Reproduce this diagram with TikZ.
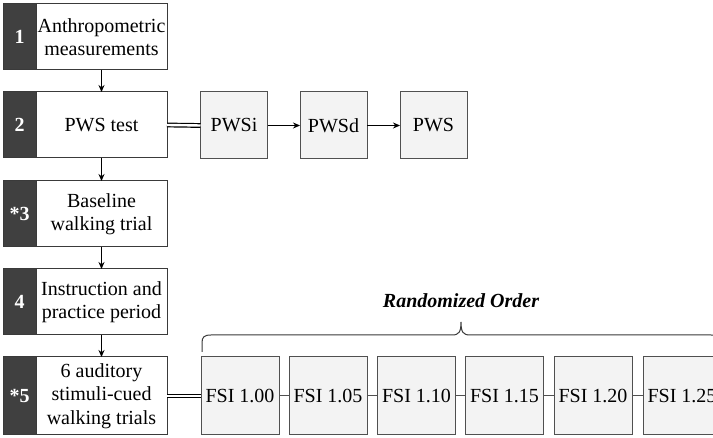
\documentclass[tikz,border=0pt]{standalone}
\usepackage{fontspec}
\setmainfont{Liberation Serif}[Ligatures=TeX]
\newfontfamily\tnr{Liberation Serif}
\usetikzlibrary{arrows.meta}
\definecolor{darkbox}{HTML}{404040}
\definecolor{edge}{HTML}{3A3A3A}
\definecolor{lightfill}{HTML}{F3F3F3}
\definecolor{grayedge}{HTML}{505050}
\tikzset{
  base/.style={inner sep=0pt, outer sep=0pt, font=\tnr\fontsize{20}{23.5}\selectfont},
  numbox/.style={base, draw=edge, fill=darkbox, line width=1pt, minimum width=33pt, text=white, font=\tnr\fontsize{20}{23.5}\selectfont\bfseries},
  stepbox/.style={base, draw=edge, fill=white, line width=1pt, minimum width=131pt, align=center},
  subbox/.style={base, draw=grayedge, fill=lightfill, line width=1pt, minimum width=67pt, minimum height=67pt},
  fsibox/.style={base, draw=grayedge, fill=lightfill, line width=1pt, minimum width=78pt, minimum height=78pt},
  arr/.style={line width=0.9pt, -{Stealth[length=7pt,width=6pt]}},
  dbl/.style={line width=1.2pt, draw=black, double=white, double distance=2.4pt},
  lnk/.style={line width=1pt, draw=grayedge}
}
\begin{document}
\begin{tikzpicture}[x=1pt,y=-1pt]
\clip (0,0) rectangle (713,438);
\fill[white] (0,0) rectangle (713,438);
% left column
\node[stepbox, minimum height=66pt] (w1) at (101.5,37) {Anthropometric\\measurements};
\node[stepbox, minimum height=66pt] (w2) at (101.5,125) {PWS test};
\node[stepbox, minimum height=66pt] (w3) at (101.5,214) {Baseline\\walking trial};
\node[stepbox, minimum height=66pt] (w4) at (101.5,302) {Instruction and\\practice period};
\node[stepbox, minimum height=78pt] (w5) at (101.5,396) {6 auditory\\stimuli-cued\\walking trials};
\node[numbox, minimum height=66pt, anchor=east] (d1) at (w1.west) {1};
\node[numbox, minimum height=66pt, anchor=east] (d2) at (w2.west) {2};
\node[numbox, minimum height=66pt, anchor=east] (d3) at (w3.west) {*3};
\node[numbox, minimum height=66pt, anchor=east] (d4) at (w4.west) {4};
\node[numbox, minimum height=78pt, anchor=east] (d5) at (w5.west) {*5};
\draw[arr] (w1) -- (w2);
\draw[arr] (w2) -- (w3);
\draw[arr] (w3) -- (w4);
\draw[arr] (w4) -- (w5);
% PWS row
\node[subbox] (pwsi) at (234,125.5) {PWSi};
\node[subbox] (pwsd) at (333.5,125.5) {PWSd};
\node[subbox] (pws) at (433.5,125.5) {PWS};
\draw[dbl] (w2.east) -- (pwsi.west);
\draw[arr] (pwsi) -- (pwsd);
\draw[arr] (pwsd) -- (pws);
% FSI row
\node[fsibox] (f1) at (240,396) {FSI 1.00};
\node[fsibox] (f2) at (328,396) {FSI 1.05};
\node[fsibox] (f3) at (416.5,396) {FSI 1.10};
\node[fsibox] (f4) at (504.5,396) {FSI 1.15};
\node[fsibox] (f5) at (593,396) {FSI 1.20};
\node[fsibox] (f6) at (682,396) {FSI 1.25};
\draw[dbl] (w5.east) -- (f1.west);
\draw[lnk] (f1) -- (f2);
\draw[lnk] (f2) -- (f3);
\draw[lnk] (f3) -- (f4);
\draw[lnk] (f4) -- (f5);
\draw[lnk] (f5) -- (f6);
% brace
\coordinate (bl) at (202,352);
\coordinate (br) at (720,352);
\coordinate (tip) at (461,322);
\draw[line width=1pt, draw=edge] (bl) -- (202,343) .. controls (202,337) and (204,335) .. (211,335)
  -- (452,335) .. controls (459,335) and (461,332) .. (tip)
  .. controls (461,332) and (463,335) .. (470,335) -- (711,335)
  .. controls (718,335) and (720,337) .. (720,343) -- (br);
\node[base, font=\tnr\fontsize{20}{23.5}\selectfont\bfseries\itshape, anchor=base] (ro) at (461,308) {Randomized Order};
\end{tikzpicture}
\end{document}
